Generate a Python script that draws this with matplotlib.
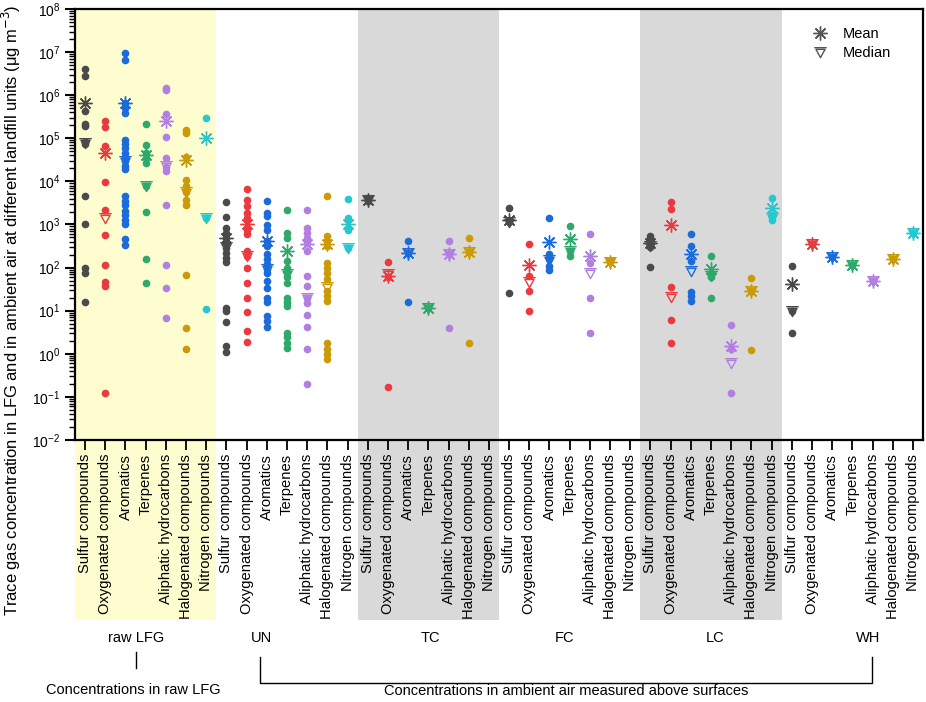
import matplotlib
matplotlib.use('Agg')
import matplotlib.pyplot as plt
from matplotlib.path import Path
from matplotlib.lines import Line2D
from matplotlib.patches import Rectangle
import matplotlib.transforms as mtransforms
from matplotlib.ticker import LogLocator, NullFormatter

plt.rcParams['font.family'] = ['Liberation Sans', 'DejaVu Sans']

# categorias y grupos
categorias = ['Sulfur compounds', 'Oxygenated compounds', 'Aromatics', 'Terpenes',
              'Aliphatic hydrocarbons', 'Halogenated compounds', 'Nitrogen compounds']
grupos = ['raw LFG', 'UN', 'TC', 'FC', 'LC', 'WH']
colores = ['#4a4a4a', '#ea3a3f', '#1b6bdb', '#2fa96b', '#b27fe0', '#cc9a06', '#22c9d1']

# datos (ug m-3), una lista por categoria
raw_lfg = [
    [4.0e6, 2.8e6, 4.2e5, 2.2e5, 1.9e5, 8.0e4, 7.5e4, 4.5e3, 1.0e3, 100, 74, 15.5],
    [2.5e5, 1.8e5, 6.5e4, 9.5e3, 2.2e3, 580, 117, 46, 37, 0.12],
    [9.4e6, 6.6e6, 6.6e5, 5.1e5, 3.9e5, 9.3e4, 7.4e4, 5.9e4, 4.6e4, 3.7e4, 3.0e4,
     2.3e4, 1.9e4, 4.5e3, 3.6e3, 2.8e3, 2.1e3, 1.7e3, 1.3e3, 1.0e3, 450, 330],
    [2.1e5, 7.1e4, 4.6e4, 3.5e4, 2.7e4, 7.7e3, 2.0e3, 160, 45],
    [1.5e6, 1.3e6, 3.6e5, 1.1e5, 3.4e4, 2.2e4, 1.7e4, 2.8e3, 112, 34, 6.6],
    [1.6e5, 1.3e5, 3.6e4, 1.1e4, 7.8e3, 5.6e3, 3.8e3, 2.8e3, 68, 3.9, 1.3],
    [3.0e5, 1.4e3, 10.7],
]
un = [
    [3.3e3, 1.5e3, 840, 650, 490, 380, 290, 220, 170, 135, 11.7, 9.8, 5.5, 1.5, 1.1],
    [6.7e3, 3.8e3, 2.7e3, 1.85e3, 1.4e3, 760, 590, 240, 185, 100, 43, 20, 9.5, 3.4, 1.9],
    [3.6e3, 1.85e3, 1.55e3, 950, 740, 410, 315, 205, 155, 120, 94, 76, 49, 34, 20,
     15.5, 7.6, 5.8, 4.2],
    [2.2e3, 650, 490, 140, 100, 80, 60, 45, 20, 15.5, 12.9, 3.1, 2.4, 1.8, 1.4],
    [2.2e3, 830, 650, 490, 380, 240, 63, 37, 20, 15, 7.8, 4.1, 1.3, 0.2],
    [4.7e3, 540, 410, 315, 130, 100, 76, 54, 29, 22, 17, 1.8, 1.3, 0.98, 0.75],
    [4.0e3, 1.4e3, 760, 290],
]
tc = [
    [4.2e3, 3.5e3],
    [135, 60, 0.17],
    [410, 220, 16.3],
    [11.8],
    [410, 205, 3.9],
    [480, 235, 1.8],
    [],
]
fc = [
    [2.4e3, 1.17e3, 26],
    [350, 63, 29, 9.8],
    [1.43e3, 205, 162, 108, 87],
    [910, 240, 190],
    [600, 130, 20, 3.1],
    [145, 132],
    [],
]
lc = [
    [540, 450, 360, 300, 105],
    [3.4e3, 2.35e3, 35, 6.0, 1.75],
    [590, 315, 140, 27, 22, 16.6],
    [185, 69, 59, 19.6],
    [4.7, 1.3, 0.12],
    [56, 29, 1.23],
    [4.1e3, 1.7e3, 1.3e3],
]
wh = [
    [109, 10, 3.0],
    [350],
    [175],
    [118],
    [50],
    [162],
    [650],
]
datos = [raw_lfg, un, tc, fc, lc, wh]

# media y mediana por grupo (None = sin datos)
media = [
    [6.6e5, 4.6e4, 6.6e5, 4.2e4, 2.5e5, 3.2e4, 1.0e5],
    [480, 1.05e3, 420, 240, 350, 350, 1.05e3],
    [3.8e3, 65, 215, 11.8, 205, 235, None],
    [1.3e3, 115, 390, 450, 190, 138, None],
    [380, 960, 205, 91, 1.5, 29, 2.4e3],
    [41, 350, 175, 118, 50, 162, 650],
]
mediana = [
    [7.8e4, 1.4e3, 3.0e4, 7.7e3, 2.3e4, 5.6e3, 1.4e3],
    [300, 185, 94, 70, 20, 35, 290],
    [3.8e3, 70, 220, 11.8, 205, 235, None],
    [1.17e3, 46, 150, 240, 76, 138, None],
    [315, 21, 84, 65, 0.6, 29, 1.45e3],
    [10, 350, 175, 118, 50, 162, 650],
]

# marcador de la mediana: triangulo con una linea arriba
verts = [(-0.8, 0.55), (0.8, 0.55), (0.0, -0.9), (-0.8, 0.55),
         (-1.1, 0.85), (1.1, 0.85)]
codes = [Path.MOVETO, Path.LINETO, Path.LINETO, Path.CLOSEPOLY,
         Path.MOVETO, Path.LINETO]
marca_mediana = Path(verts, codes)
marca_media = (8, 2, 0)

fig = plt.figure(figsize=(9.26, 7.02), dpi=100)
ax = fig.add_axes([75 / 926, 1 - 440 / 702, 848 / 926, 431 / 702])

nc = len(categorias)
for g, grupo in enumerate(datos):
    for c, valores in enumerate(grupo):
        x = g * nc + c
        if valores:
            ax.plot([x] * len(valores), valores, 'o', color=colores[c],
                    markersize=5.5, markeredgewidth=0, zorder=3)
        if media[g][c] is not None:
            ax.plot(x, media[g][c], marker=marca_media, color=colores[c],
                    markersize=10, markeredgewidth=1.0, zorder=4)
        if mediana[g][c] is not None:
            ax.plot(x, mediana[g][c], marker=marca_mediana, color=colores[c],
                    markerfacecolor='none', markersize=9, markeredgewidth=1.0,
                    zorder=4)

# fondos de colores (se extienden bajo las etiquetas)
trans = mtransforms.blended_transform_factory(ax.transData, ax.transAxes)
fondos = {0: '#fdfdd0', 2: '#d9d9d9', 4: '#d9d9d9'}
for g, col in fondos.items():
    r = Rectangle((g * nc - 0.5, -0.418), nc, 1.418, transform=trans,
                  facecolor=col, edgecolor='none', clip_on=False, zorder=0)
    ax.add_patch(r)

ax.set_yscale('log')
ax.set_ylim(1e-2, 1e8)
ax.set_xlim(-0.5, len(grupos) * nc - 0.5)
ax.yaxis.set_major_locator(LogLocator(base=10, numticks=20))
ax.yaxis.set_minor_locator(LogLocator(base=10, subs=range(2, 10), numticks=20))
ax.yaxis.set_minor_formatter(NullFormatter())
ax.set_xticks(range(len(grupos) * nc))
ax.set_xticklabels(categorias * len(grupos), rotation=90, fontsize=10.6)
ax.tick_params(axis='y', which='major', length=7, width=1.5, labelsize=10)
ax.tick_params(axis='y', which='minor', length=4, width=1.0)
ax.tick_params(axis='x', length=7, width=1.3, pad=3)
for s in ax.spines.values():
    s.set_linewidth(1.6)

ax.set_ylabel('Trace gas concentration in LFG and in ambient air at different landfill units (μg m$^{-3}$)',
              fontsize=11.9)
ax.yaxis.set_label_coords(-0.061, 0.30)

# leyenda
h1 = Line2D([], [], marker=marca_media, color='#555555', linestyle='none',
            markersize=10, markeredgewidth=1.0)
h2 = Line2D([], [], marker=marca_mediana, color='#555555', markerfacecolor='none',
            linestyle='none', markersize=9, markeredgewidth=1.0)
ax.legend([h1, h2], ['Mean', 'Median'], loc='upper right', frameon=False,
          fontsize=10.5, handletextpad=0.6, labelspacing=0.3,
          bbox_to_anchor=(0.978, 0.988))

# etiquetas de los grupos abajo
fuente = ['Liberation Sans Narrow', 'Liberation Sans', 'DejaVu Sans']


def fx(x):
    return x / 926


def fy(y):
    return 1 - y / 702


posiciones = [136, 262, 430, 565, 715, 868]
for nombre, px in zip(grupos, posiciones):
    fig.text(fx(px), fy(638), nombre, ha='center', va='center', fontsize=10.5,
             family=fuente)

fig.add_artist(Line2D([fx(136), fx(136)], [fy(652), fy(668)], color='black', lw=1.0))
fig.add_artist(Line2D([fx(260), fx(260), fx(872), fx(872)],
                      [fy(657), fy(683), fy(683), fy(657)], color='black', lw=1.0))
fig.text(fx(133), fy(690), 'Concentrations in raw LFG', ha='center', va='center',
         fontsize=10.5, family=fuente)
fig.text(fx(566), fy(691), 'Concentrations in ambient air measured above surfaces',
         ha='center', va='center', fontsize=10.5, family=fuente)

fig.savefig('out.png', dpi=100)
